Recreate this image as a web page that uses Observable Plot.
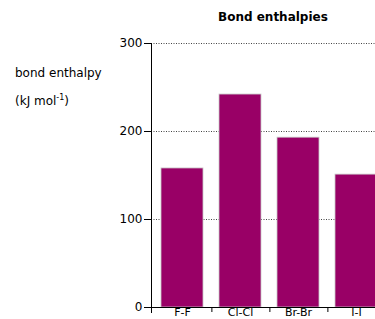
<!DOCTYPE html>
<html>
<head>
<meta charset="utf-8">
<script src="https://cdn.jsdelivr.net/npm/d3@7"></script>
<script src="https://cdn.jsdelivr.net/npm/@observablehq/plot@0.6"></script>
<style>
  html, body { margin: 0; padding: 0; background: #fff; }
  #wrap { position: relative; width: 375px; height: 319px; overflow: hidden; font-family: "DejaVu Sans", sans-serif; }
  #chart { position: absolute; left: 0; top: 0; width: 390px; }
  #chart svg { max-width: none !important; }
  .lbl { position: absolute; white-space: nowrap; color: #000; font-size: 12px; line-height: 1; }
  #title { font-weight: bold; font-size: 12px; }
  sup { font-size: 8px; vertical-align: 5px; line-height: 0; }
</style>
</head>
<body>
<div id="wrap">
  <div id="chart"></div>
  <div class="lbl" id="title" style="left:218px; top:11px;">Bond enthalpies</div>
  <div class="lbl" style="left:15px; top:67px;">bond enthalpy</div>
  <div class="lbl" style="left:15px; top:95px;">(kJ mol<sup>-1</sup>)</div>
</div>
<script>
const bonds = ["F-F", "Cl-Cl", "Br-Br", "I-I"];
const enthalpies = [158, 242, 193, 151];
const yTicks = [0, 100, 200, 300];

const data = bonds.map((b, i) => ({bond: b, value: enthalpies[i]}));

const W = 390, ML = 151, MR = 4;
const pIn = 0.28, pOut = 0.14;
const step = (W - ML - MR) / (bonds.length - pIn + 2 * pOut);

const chart = Plot.plot({
  width: W,
  height: 319,
  marginTop: 43,
  marginBottom: 12,
  marginLeft: ML,
  marginRight: MR,
  style: {fontFamily: "DejaVu Sans, sans-serif", fontSize: "12px", color: "#000", background: "transparent", maxWidth: "none"},
  x: {domain: bonds, paddingInner: pIn, paddingOuter: pOut, label: null},
  y: {domain: [0, 300], label: null},
  marks: [
    Plot.gridY(yTicks, {stroke: "#444", strokeOpacity: 1, strokeDasharray: "1,1.5", strokeWidth: 1}),
    Plot.barY(data, {x: "bond", y: "value", fill: "#990066", stroke: "#c8c8c8", strokeWidth: 0.8}),
    Plot.ruleY([0], {stroke: "#000", insetLeft: -5}),
    Plot.frame({anchor: "left", stroke: "#000", insetBottom: -5}),
    Plot.axisY({ticks: yTicks, tickSize: 7, tickPadding: 2, tickFormat: d => String(d), fontSize: 12}),
    Plot.axisX({tickSize: 5, tickFormat: () => "", dx: step / 2}),
    Plot.axisX({tickSize: 0, tickPadding: 1, fontSize: 11})
  ]
});
chart.style.maxWidth = "none";
document.getElementById("chart").appendChild(chart);
</script>
</body>
</html>
